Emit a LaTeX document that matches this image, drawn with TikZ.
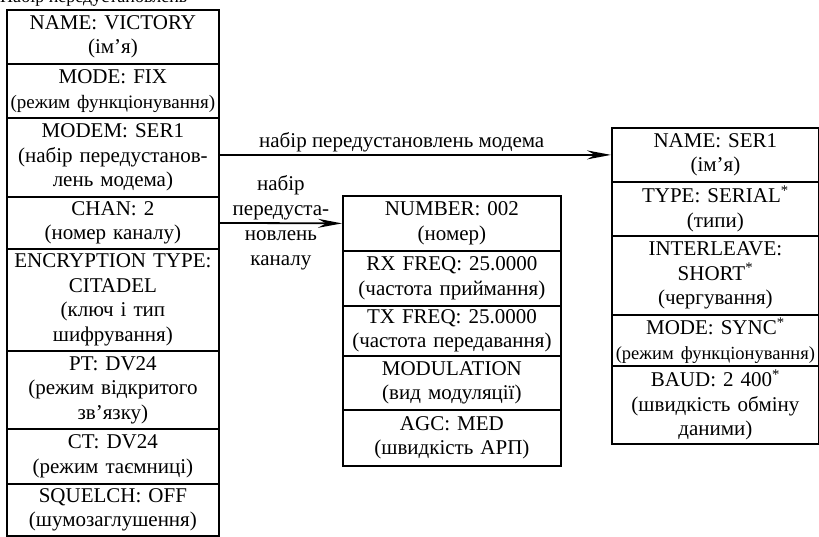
\documentclass[tikz,border=0pt]{standalone}
\usepackage{fontspec}
\setmainfont{Liberation Serif}
\usetikzlibrary{arrows.meta,positioning}

\newcommand{\cellfont}{\fontsize{21}{24.5}\selectfont}
\DeclareRobustCommand{\narrowfont}{\fontsize{19}{24.5}\selectfont}
\DeclareRobustCommand{\slimfont}{\fontsize{18.5}{24.5}\selectfont}
\tikzset{
  cell/.style={draw, line width=1.8pt, align=center, inner xsep=0pt, inner ysep=2pt,
    anchor=north west, font=\cellfont},
  link/.style={line width=1.8pt, -{Stealth[length=24pt, width=9pt, inset=8pt]}}
}

\begin{document}
\begin{tikzpicture}[x=1pt, y=-1pt]
  \useasboundingbox (0,0) rectangle (819,536);

  % Обрізаний заголовок угорі
  \node[font=\fontsize{18}{20}\selectfont, anchor=base west, inner sep=0pt] (head) at (0,2) {Набір передустановлень};

  % Ліва колонка: ім'я / верх / висота / текст
  \foreach \n/\y/\h/\t in {
    vname/9/54/{NAME: VICTORY\\(ім’я)},
    vmode/63/54/{MODE: FIX\\{\narrowfont(режим функціонування)}},
    modem/117/79/{MODEM: SER1\\(набір передустанов-\\лень модема)},
    chan/196/52/{CHAN: 2\\(номер каналу)},
    encr/248/102/{ENCRYPTION TYPE:\\CITADEL\\(ключ і тип\\шифрування)},
    pt/350/78/{PT: DV24\\(режим відкритого\\зв’язку)},
    ct/428/55/{CT: DV24\\(режим таємниці)},
    squelch/483/52/{SQUELCH: OFF\\(шумозаглушення)}
  } {
    \node[cell, text width=212pt, minimum height=\h pt] (\n) at (6,\y) {\t};
  }

  % Середня колонка: канал
  \foreach \n/\y/\h/\t in {
    number/195/55/{NUMBER: 002\\(номер)},
    rx/250/55/{RX FREQ: 25.0000\\(частота приймання)},
    tx/305/50/{TX FREQ: 25.0000\\(частота передавання)},
    modul/355/54/{MODULATION\\(вид модуляції)},
    agc/409/56/{AGC: MED\\(швидкість АРП)}
  } {
    \node[cell, text width=218pt, minimum height=\h pt] (\n) at (342,\y) {\t};
  }

  % Права колонка: модем
  \foreach \n/\y/\h/\t in {
    sname/127/54/{NAME: SER1\\(ім’я)},
    stype/181/54/{TYPE: SERIAL\textsuperscript{*}\\(типи)},
    inter/235/79/{INTERLEAVE:\\SHORT\textsuperscript{*}\\(чергування)},
    smode/314/51/{MODE: SYNC\textsuperscript{*}\\{\slimfont(режим функціонування)}},
    baud/365/78/{BAUD: 2~400\textsuperscript{*}\\(швидкість обміну\\даними)}
  } {
    \node[cell, text width=207pt, minimum height=\h pt] (\n) at (611,\y) {\t};
  }

  % Зв'язки
  \draw[link] (modem.east |- sname.west) -- node[above, pos=0.465, font=\cellfont, inner sep=2pt] (mlabel) {набір передустановлень модема} (sname.west);
  \draw[link] (chan.east) -- node[font=\fontsize{21}{25}\selectfont, align=center, inner sep=0pt] (clabel) {набір\\передуста-\\новлень\\каналу} (number.west);
\end{tikzpicture}
\end{document}
